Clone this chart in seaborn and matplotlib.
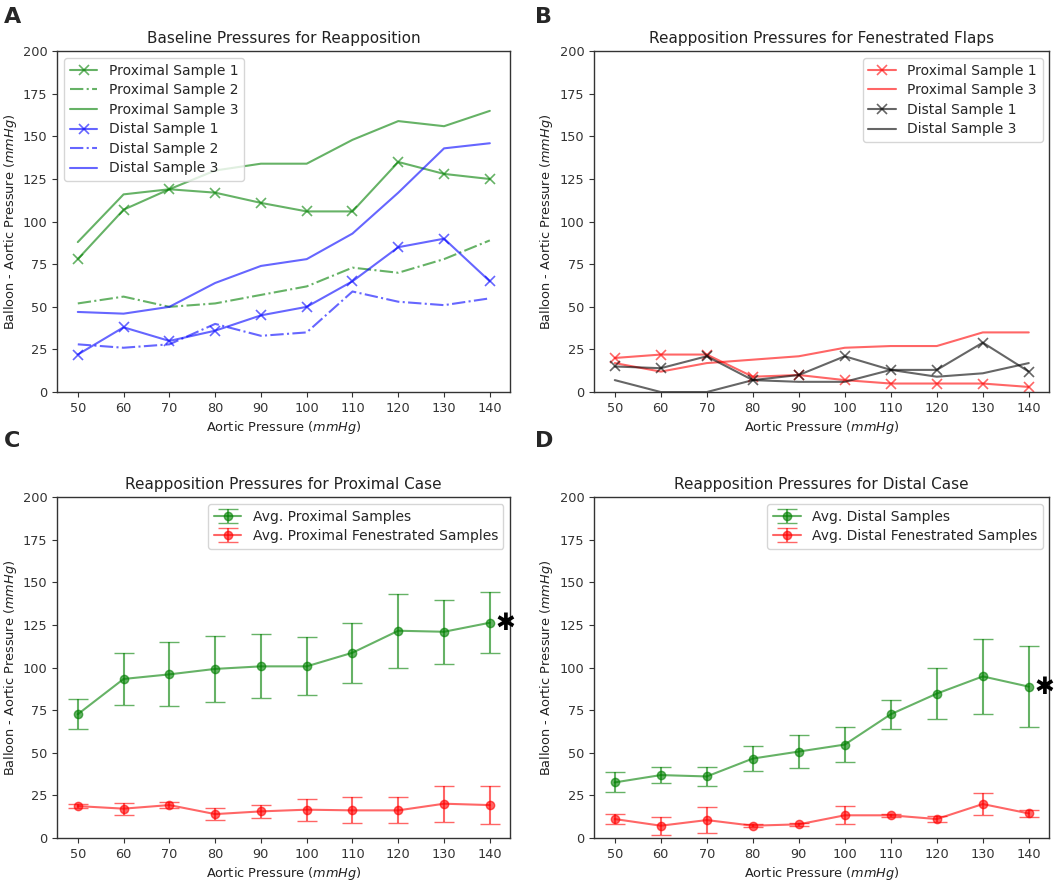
import numpy as np
import pandas as pd
import matplotlib
matplotlib.use("Agg")
import matplotlib.pyplot as plt
import seaborn as sns

aortic = [50, 60, 70, 80, 90, 100, 110, 120, 130, 140]

# panel A: baseline samples
prox_1 = [78, 107, 119, 117, 111, 106, 106, 135, 128, 125]
prox_2 = [52, 56, 50, 52, 57, 62, 73, 70, 78, 89]
prox_3 = [88, 116, 119, 130, 134, 134, 148, 159, 156, 165]
dist_1 = [22, 38, 30, 36, 45, 50, 65, 85, 90, 65]
dist_2 = [28, 26, 28, 40, 33, 35, 59, 53, 51, 55]
dist_3 = [47, 46, 50, 64, 74, 78, 93, 117, 143, 146]

# panel B: fenestrated flaps
fen_prox_1 = [20, 22, 22, 9, 10, 7, 5, 5, 5, 3]
fen_prox_3 = [17, 12, 17, 19, 21, 26, 27, 27, 35, 35]
fen_dist_1 = [15, 14, 21, 7, 10, 21, 13, 13, 29, 12]
fen_dist_3 = [7, 0, 0, 7, 6, 6, 13, 9, 11, 17]

# panel C: proximal averages
avg_prox = [72.6, 93.3, 96, 99.2, 100.7, 100.7, 108.7, 121.6, 121, 126.3]
avg_prox_err = [8.7, 15, 18.8, 19.5, 18.7, 17, 17.7, 21.7, 18.7, 18]
avg_prox_fen = [18.7, 17.2, 19.3, 14, 15.6, 16.6, 16.2, 16.2, 20.1, 19.3]
avg_prox_fen_err = [1.2, 3.6, 1.9, 3.5, 3.7, 6.5, 7.6, 7.6, 10.6, 11]

# panel D: distal averages
avg_dist = [32.6, 36.9, 36.1, 46.6, 50.7, 54.8, 72.6, 84.7, 94.8, 88.8]
avg_dist_err = [5.9, 4.8, 5.7, 7.4, 9.9, 10.1, 8.5, 14.8, 21.8, 23.6]
avg_dist_fen = [11.1, 7.2, 10.5, 7.2, 8, 13.3, 13.3, 11.1, 19.9, 14.4]
avg_dist_fen_err = [2.8, 5.2, 7.6, 1, 1, 5.2, 1, 1.5, 6.2, 2]

sns.set_style("ticks")
plt.rcParams["font.family"] = ["DejaVu Sans"]
plt.rcParams["axes.edgecolor"] = "#333333"
plt.rcParams["xtick.color"] = "#333333"
plt.rcParams["ytick.color"] = "#333333"

XLABEL = r"Aortic Pressure ($mmHg$)"
YLABEL = r"Balloon - Aortic Pressure ($mmHg$)"


def style_axes(ax, title):
    ax.set_ylim(0, 200)
    ax.set_yticks(range(0, 201, 25))
    ax.set_xticks(aortic)
    ax.set_title(title, fontsize=11, color="#222222")
    ax.set_xlabel(XLABEL, fontsize=9.3, labelpad=3, color="#222222")
    ax.set_ylabel(YLABEL, fontsize=9.3, labelpad=3, color="#222222")
    ax.tick_params(labelsize=9.3)
    for s in ax.spines.values():
        s.set_visible(True)
        s.set_linewidth(1.0)


def draw_lines(ax, series, loc):
    for label, vals, color, style, marker in series:
        sns.lineplot(
            x=aortic, y=vals, ax=ax, color=color, alpha=0.6,
            linestyle=style, marker=marker, markersize=6.5,
            markeredgecolor=color, markeredgewidth=1.2,
            linewidth=1.5, label=label,
        )
    ax.legend(loc=loc, fontsize=10, frameon=True, handlelength=2.0,
              labelspacing=0.4)


def draw_avg(ax, series):
    for label, vals, errs, color in series:
        ax.errorbar(
            aortic, vals, yerr=errs, color=color, alpha=0.6, fmt="-o",
            markersize=6, capsize=7, linewidth=1.5, elinewidth=1.5,
            label=label,
        )
    ax.legend(loc="upper right", fontsize=10, frameon=True, labelspacing=0.4)


fig = plt.figure(figsize=(10.59, 8.83), dpi=100)
ax_a = fig.add_axes([0.054, 0.556, 0.428, 0.386])
ax_b = fig.add_axes([0.561, 0.556, 0.430, 0.386])
ax_c = fig.add_axes([0.054, 0.051, 0.428, 0.386])
ax_d = fig.add_axes([0.561, 0.051, 0.430, 0.386])

draw_lines(ax_a, [
    ("Proximal Sample 1", prox_1, "green", "-", "x"),
    ("Proximal Sample 2", prox_2, "green", "-.", None),
    ("Proximal Sample 3", prox_3, "green", "-", None),
    ("Distal Sample 1", dist_1, "blue", "-", "x"),
    ("Distal Sample 2", dist_2, "blue", "-.", None),
    ("Distal Sample 3", dist_3, "blue", "-", None),
], "upper left")
style_axes(ax_a, "Baseline Pressures for Reapposition")

draw_lines(ax_b, [
    ("Proximal Sample 1", fen_prox_1, "red", "-", "x"),
    ("Proximal Sample 3", fen_prox_3, "red", "-", None),
    ("Distal Sample 1", fen_dist_1, "black", "-", "x"),
    ("Distal Sample 3", fen_dist_3, "black", "-", None),
], "upper right")
style_axes(ax_b, "Reapposition Pressures for Fenestrated Flaps")

draw_avg(ax_c, [
    ("Avg. Proximal Samples", avg_prox, avg_prox_err, "green"),
    ("Avg. Proximal Fenestrated Samples", avg_prox_fen, avg_prox_fen_err, "red"),
])
style_axes(ax_c, "Reapposition Pressures for Proximal Case")
ax_c.annotate("✱", xy=(aortic[-1], avg_prox[-1]), xytext=(11, 0),
              textcoords="offset points", ha="center", va="center",
              fontsize=17, color="black", annotation_clip=False)

draw_avg(ax_d, [
    ("Avg. Distal Samples", avg_dist, avg_dist_err, "green"),
    ("Avg. Distal Fenestrated Samples", avg_dist_fen, avg_dist_fen_err, "red"),
])
style_axes(ax_d, "Reapposition Pressures for Distal Case")
ax_d.annotate("✱", xy=(aortic[-1], avg_dist[-1]), xytext=(11, 0),
              textcoords="offset points", ha="center", va="center",
              fontsize=17, color="black", annotation_clip=False)

for letter, x, y in [("A", 0.004, 0.992), ("B", 0.505, 0.992),
                     ("C", 0.004, 0.512), ("D", 0.505, 0.512)]:
    fig.text(x, y, letter, fontsize=16, fontweight="bold", va="top")

fig.savefig("out.png", dpi=100)
